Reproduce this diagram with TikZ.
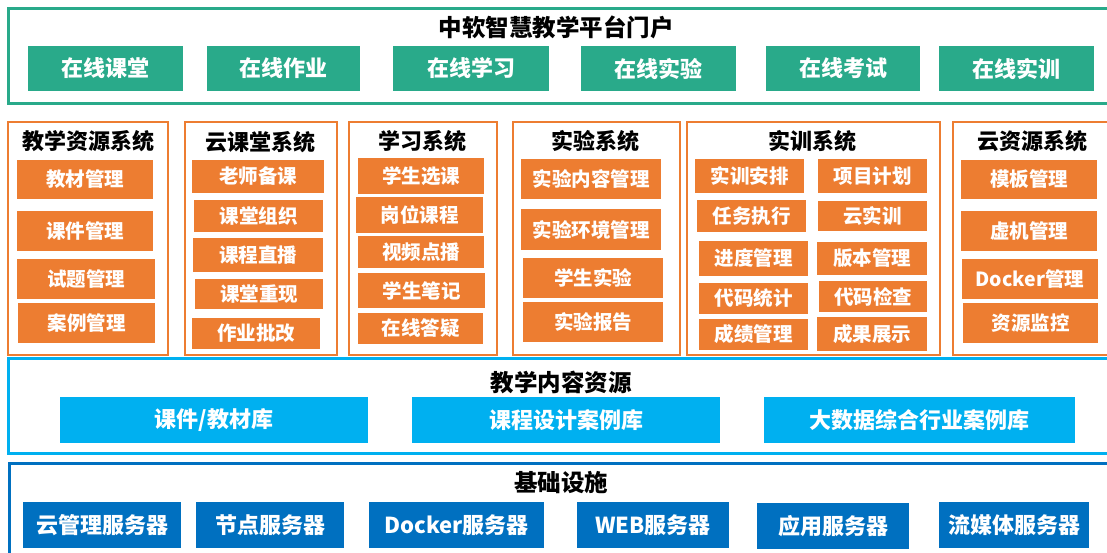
\documentclass[tikz,border=0pt]{standalone}
\usepackage{fontspec}
\setmainfont{Noto Sans CJK SC}
\definecolor{pgreen}{HTML}{29AA8A}
\definecolor{porange}{HTML}{ED7D31}
\definecolor{plblue}{HTML}{00B0F0}
\definecolor{pdblue}{HTML}{0070C0}
\newcommand\bxx[7]{\node[#1,minimum width={(#5-#3)*1pt},minimum height={(#6-#4)*1pt}] (#2) at ({(#3+#5)/2},{(#4+#6)/2}) {#7};}
\begin{document}
\begin{tikzpicture}[x=1pt,y=-1pt,
  box/.style={inner sep=0pt,outer sep=0pt,text=white,font=\bfseries\fontsize{22}{25}\selectfont},
  gbox/.style={box,fill=pgreen},
  obox/.style={box,fill=porange,font=\bfseries\fontsize{19.5}{22}\selectfont},
  lbox/.style={box,fill=plblue},
  dbox/.style={box,fill=pdblue},
  frame/.style={draw,line width=3pt,inner sep=0pt,outer sep=0pt},
  ttl/.style={inner sep=0pt,text=black,font=\bfseries\fontsize{23.5}{27}\selectfont},
  sttl/.style={inner sep=0pt,text=black,font=\bfseries\fontsize{22}{25}\selectfont}]
\useasboundingbox[fill=white] (0,0) rectangle (1107,553);
% top portal
\bxx{frame,pgreen}{ftop}{8.5}{9}{1115}{104}{}
\node[ttl] (ttop) at (556,27) {中软智慧教学平台门户};
\bxx{gbox}{t1}{28}{46}{183}{91}{在线课堂}
\bxx{gbox}{t2}{207}{46}{360}{91}{在线作业}
\bxx{gbox}{t3}{393}{46}{549}{91}{在线学习}
\bxx{gbox}{t4}{581}{46}{736}{91}{在线实验}
\bxx{gbox}{t5}{766}{46}{920}{91}{在线考试}
\bxx{gbox}{t6}{939}{46}{1094}{91}{在线实训}
% orange systems
\bxx{frame,porange,line width=2.5pt}{f1}{8}{122}{168}{355}{}
\bxx{frame,porange,line width=2.5pt}{f2}{185}{122}{337}{355}{}
\bxx{frame,porange,line width=2.5pt}{f3}{349}{122}{497}{355}{}
\bxx{frame,porange,line width=2.5pt}{f4}{513}{122}{680}{355}{}
\bxx{frame,porange,line width=2.5pt}{f5}{687}{122}{940}{355}{}
\bxx{frame,porange,line width=2.5pt}{f6}{953}{122}{1115}{355}{}
\node[sttl] (s1) at (88,141) {教学资源系统};
\node[sttl] (s2) at (260,142) {云课堂系统};
\node[sttl] (s3) at (422,141) {学习系统};
\node[sttl] (s4) at (595,141) {实验系统};
\node[sttl] (s5) at (812,141) {实训系统};
\node[sttl] (s6) at (1032,141) {云资源系统};
% f1
\bxx{obox}{a1}{17}{160}{153}{199}{教材管理}
\bxx{obox}{a2}{17}{211}{153}{251}{课件管理}
\bxx{obox}{a3}{17}{259}{155}{299}{试题管理}
\bxx{obox}{a4}{18}{303}{155}{343}{案例管理}
% f2
\bxx{obox}{b1}{192}{160}{324}{193}{老师备课}
\bxx{obox}{b2}{194}{200}{323}{232}{课堂组织}
\bxx{obox}{b3}{193}{238}{323}{272}{课程直播}
\bxx{obox}{b4}{195}{279}{323}{309}{课堂重现}
\bxx{obox}{b5}{192}{318}{320}{349}{作业批改}
% f3
\bxx{obox}{c1}{358}{158}{484}{194}{学生选课}
\bxx{obox}{c2}{356}{197}{483}{233}{岗位课程}
\bxx{obox}{c3}{358}{236}{484}{268}{视频点播}
\bxx{obox}{c4}{358}{273}{485}{308}{学生笔记}
\bxx{obox}{c5}{358}{313}{483}{344}{在线答疑}
% f4
\bxx{obox}{d1}{521}{159}{661}{199}{实验内容管理}
\bxx{obox}{d2}{521}{209}{661}{250}{实验环境管理}
\bxx{obox}{d3}{523}{258}{663}{298}{学生实验}
\bxx{obox}{d4}{523}{302}{663}{342}{实验报告}
% f5
\bxx{obox}{e1}{695}{159}{804}{193}{实训安排}
\bxx{obox}{e2}{697}{200}{806}{232}{任务执行}
\bxx{obox}{e3}{699}{241}{808}{276}{进度管理}
\bxx{obox}{e4}{699}{283}{808}{314}{代码统计}
\bxx{obox}{e5}{699}{319}{808}{350}{成绩管理}
\bxx{obox}{e6}{818}{159}{927}{193}{项目计划}
\bxx{obox}{e7}{818}{201}{927}{231}{云实训}
\bxx{obox}{e8}{817}{242}{927}{275}{版本管理}
\bxx{obox}{e9}{819}{281}{927}{312}{代码检查}
\bxx{obox}{e10}{817}{317}{927}{351}{成果展示}
% f6
\bxx{obox}{g1}{961}{160}{1097}{199}{模板管理}
\bxx{obox}{g2}{961}{211}{1097}{251}{虚机管理}
\bxx{obox}{g3}{962}{259}{1098}{299}{Docker管理}
\bxx{obox}{g4}{963}{303}{1098}{343}{资源监控}
% teaching content
\bxx{frame,plblue}{fcont}{8}{358}{1115}{453}{}
\node[ttl] (tcont) at (561,382) {教学内容资源};
\bxx{lbox}{h1}{60}{397}{368}{443}{课件/教材库}
\bxx{lbox}{h2}{412}{397}{720}{443}{课程设计案例库}
\bxx{lbox}{h3}{764}{397}{1075}{443}{大数据综合行业案例库}
% infrastructure
\bxx{frame,pdblue}{finf}{9}{463}{1115}{565}{}
\node[ttl] (tinf) at (561,483) {基础设施};
\bxx{dbox}{i1}{23}{502}{181}{548}{云管理服务器}
\bxx{dbox}{i2}{196}{502}{344}{548}{节点服务器}
\bxx{dbox}{i3}{369}{502}{544}{548}{Docker服务器}
\bxx{dbox}{i4}{577}{502}{729}{548}{WEB服务器}
\bxx{dbox}{i5}{757}{503}{909}{549}{应用服务器}
\bxx{dbox}{i6}{939}{502}{1089}{548}{流媒体服务器}
\end{tikzpicture}
\end{document}
